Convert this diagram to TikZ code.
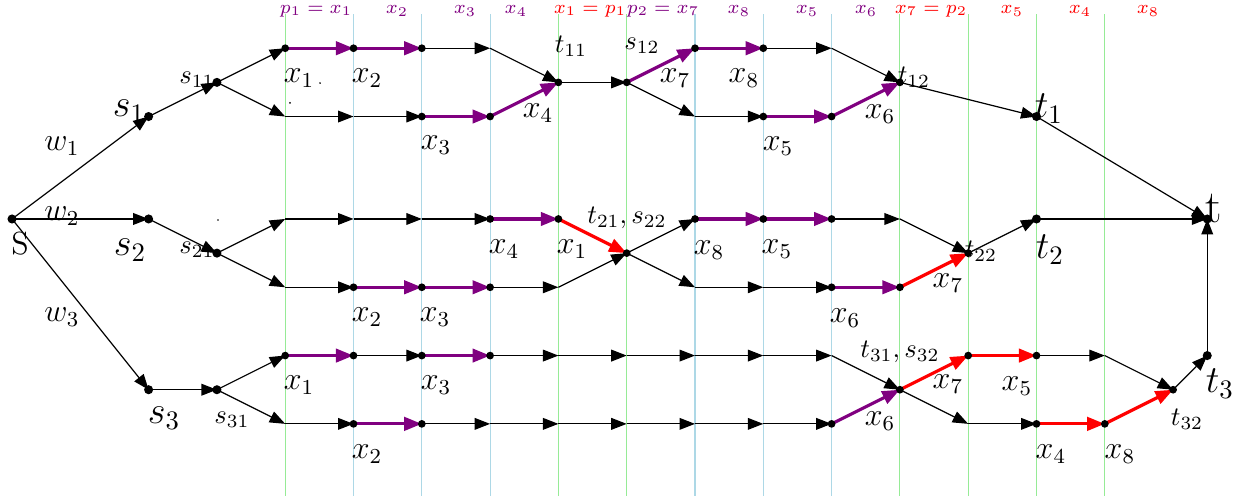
\documentclass[tikz,border=0pt]{standalone}
\usetikzlibrary{arrows.meta}

\definecolor{flowpurple}{RGB}{128,0,128}
\definecolor{sepgreen}{RGB}{150,235,150}
\definecolor{sepblue}{RGB}{173,216,230}

\newcommand*{\xmin}{-0.176}
\newcommand*{\xmax}{17.892}
\newcommand*{\ymin}{-4.056}
\newcommand*{\ymax}{3.206}

\begin{document}
\begin{tikzpicture}
[
	x=0.9cm, y=0.9cm,
	plain/.style={-{Triangle[length=5.8pt,width=4.4pt]},line width=0.45pt},
	used/.style={-{Triangle[length=6.6pt,width=5pt]},very thick,flowpurple},
	moved/.style={used,red},
	closedpt/.style={circle,fill,inner sep=0pt,minimum size=2.9pt},
	bigpt/.style={closedpt,minimum size=3.4pt},
	straypt/.style={circle,fill,inner sep=0pt,minimum size=0.7pt},
	greenline/.style={sepgreen,line width=0.4pt},
	blueline/.style={sepblue,line width=0.4pt},
	xl/.style={font=\large},
	tl/.style={font=\scriptsize}
]
	\useasboundingbox (\xmin,\ymin) rectangle (\xmax,\ymax);

	% separators
	\foreach \k in {0,4,5,9,10,11,12}
		\draw[greenline] (4+\k,3) -- (4+\k,\ymin);
	\foreach \k in {1,2,3,6,7,8}
		\draw[blueline] (4+\k,3) -- (4+\k,\ymin);

	% headers
	\node[tl,flowpurple] (top1) at (4.451,3.045) {$p_1 = x_1$};
	\node[tl,flowpurple] (top2) at (5.637,3.045) {$x_2$};
	\node[tl,flowpurple] (top3) at (6.633,3.045) {$x_3$};
	\node[tl,flowpurple] (top4) at (7.379,3.045) {$x_4$};
	\node[tl,red] (top5) at (8.463,3.045) {$x_1 = p_1$};
	\node[tl,flowpurple] (top6) at (9.531,3.045) {$p_2 = x_7$};
	\node[tl,flowpurple] (top7) at (10.644,3.045) {$x_8$};
	\node[tl,flowpurple] (top8) at (11.64,3.045) {$x_5$};
	\node[tl,flowpurple] (top9) at (12.504,3.045) {$x_6$};
	\node[tl,red] (top10) at (13.455,3.045) {$x_7 = p_2$};
	\node[tl,red] (top11) at (14.641,3.045) {$x_5$};
	\node[tl,red] (top12) at (15.637,3.045) {$x_4$};
	\node[tl,red] (top13) at (16.633,3.045) {$x_8$};

	% points
	\coordinate (S) at (0,0);
	\coordinate (s1) at (2,1.5);
	\coordinate (s2) at (2,0);
	\coordinate (s3) at (2,-2.5);
	\coordinate (s11) at (3,2);
	\coordinate (s21) at (3,-0.5);
	\coordinate (s31) at (3,-2.5);
	\coordinate (t11) at (8,2);
	\coordinate (s12) at (9,2);
	\coordinate (t12) at (13,2);
	\coordinate (t1) at (15,1.5);
	\coordinate (t21) at (9,-0.5);
	\coordinate (t22) at (14,-0.5);
	\coordinate (t2) at (15,0);
	\coordinate (t31) at (13,-2.5);
	\coordinate (t32) at (17,-2.5);
	\coordinate (t3) at (17.5,-2);
	\coordinate (t) at (17.5,0);
	\foreach \i in {0,...,3,6,7,8} {
		\coordinate (a\i) at (4+\i,2.5);
		\coordinate (b\i) at (4+\i,1.5);
	}
	\foreach \i in {0,...,4,6,7,8,9} {
		\coordinate (c\i) at (4+\i,0);
		\coordinate (d\i) at (4+\i,-1);
	}
	\foreach \i in {0,...,8} {
		\coordinate (e\i) at (4+\i,-2);
		\coordinate (f\i) at (4+\i,-3);
	}
	\foreach \i in {1,2,3} {
		\coordinate (g\i) at (13+\i,-2);
		\coordinate (h\i) at (13+\i,-3);
	}

	% arcs
	\foreach \u/\v in {S/s1,S/s2,S/s3,s1/s11,s2/s21,s3/s31,s11/a0,s11/b0,s21/c0,s21/d0,s31/e0,s31/f0}
		\draw[plain] (\u) -- (\v);
	\foreach \u/\v in {a2/a3,a3/t11,b0/b1,b1/b2,t11/s12,s12/b6,a7/a8,a8/t12,b6/b7,t12/t1,t1/t}
		\draw[plain] (\u) -- (\v);
	\foreach \u/\v in {c0/c1,c1/c2,c2/c3,d0/d1,d3/d4,d4/t21,t21/c6,t21/d6,c8/c9,c9/t22,d6/d7,d7/d8,t22/t2,t2/t}
		\draw[plain] (\u) -- (\v);
	\foreach \u/\v in {e1/e2,e3/e4,e4/e5,e5/e6,e6/e7,e7/e8,e8/t31,f0/f1,f2/f3,f3/f4,f4/f5,f5/f6,f6/f7,f7/f8,g2/g3,g3/t32,t31/h1,h1/h2,t32/t3,t3/t}
		\draw[plain] (\u) -- (\v);

	% paths
	\foreach \u/\v in {a0/a1,a1/a2,b2/b3,b3/t11,s12/a6,a6/a7,b7/b8,b8/t12,c3/c4,d1/d2,d2/d3,c6/c7,c7/c8,d8/d9,e0/e1,e2/e3,f1/f2,f8/t31}
		\draw[used] (\u) -- (\v);
	\foreach \u/\v in {c4/t21,d9/t22,t31/g1,g1/g2,h2/h3,h3/t32}
		\draw[moved] (\u) -- (\v);

	% dots
	\foreach \p in {S,s1,s2,s3,s11,s21,s31,t1,t2,t3,t}
		\node[bigpt] (\p-dot) at (\p) {};
	\foreach \p in {a0,a1,a2,t11,s12,a6,a7,t12,b2,b3,b7,b8,c3,c4,t21,c6,c7,c8,t22,d1,d2,d3,d8,d9,e0,e1,e2,e3,t31,g1,g2,t32,f1,f2,f8,h2,h3}
		\node[closedpt] (\p-dot) at (\p) {};
	\node[straypt] (stray1) at (4.51,1.99) {};
	\node[straypt] (stray2) at (4.07,1.70) {};
	\node[straypt] (stray3) at (3.016,-0.015) {};

	% names
	\node[font=\large] (lS) at (0.117,-0.366) {S};
	\node[font=\LARGE] (lt) at (17.6,0.146) {t};
	\node[xl] (lw1) at (0.732,1.069) {$w_1$};
	\node[xl] (lw2) at (0.732,0.044) {$w_2$};
	\node[xl] (lw3) at (0.732,-1.435) {$w_3$};
	\node[font=\Large] (ls1) at (1.713,1.581) {$s_1$};
	\node[font=\Large] (ls2) at (1.728,-0.454) {$s_2$};
	\node[font=\Large] (ls3) at (2.225,-2.914) {$s_3$};
	\node (ls11) at (2.709,2.035) {$s_{11}$};
	\node (ls21) at (2.709,-0.454) {$s_{21}$};
	\node (ls31) at (3.221,-2.943) {$s_{31}$};
	\node (lt11) at (8.184,2.533) {$t_{11}$};
	\node (ls12) at (9.224,2.533) {$s_{12}$};
	\node (lt12) at (13.206,2.079) {$t_{12}$};
	\node[font=\Large] (lt1) at (15.183,1.611) {$t_1$};
	\node[font=\Large] (lt2) at (15.198,-0.454) {$t_2$};
	\node[font=\Large] (lt3) at (17.687,-2.416) {$t_3$};
	\node (lt21) at (9.004,0.015) {$t_{21}, s_{22}$};
	\node (lt22) at (14.187,-0.469) {$t_{22}$};
	\node (lt31) at (13.001,-1.947) {$t_{31}, s_{32}$};
	\node (lt32) at (17.204,-2.928) {$t_{32}$};

	% flow labels, first block
	\node[xl] (la0) at (4.202,2.064) {$x_1$};
	\node[xl] (la1) at (5.198,2.064) {$x_2$};
	\node[xl] (lb2) at (6.208,1.083) {$x_3$};
	\node[xl] (lb3) at (7.701,1.552) {$x_4$};
	\node[xl] (la6) at (9.707,2.064) {$x_7$};
	\node[xl] (la7) at (10.717,2.064) {$x_8$};
	\node[xl] (lb7) at (11.215,1.069) {$x_5$};
	\node[xl] (lb8) at (12.709,1.537) {$x_6$};

	% flow labels, second block
	\node[xl] (lc3) at (7.204,-0.439) {$x_4$};
	\node[xl] (lc4) at (8.199,-0.439) {$x_1$};
	\node[xl] (lc6) at (10.205,-0.454) {$x_8$};
	\node[xl] (lc7) at (11.2,-0.439) {$x_5$};
	\node[xl] (ld1) at (5.198,-1.435) {$x_2$};
	\node[xl] (ld2) at (6.193,-1.435) {$x_3$};
	\node[xl] (ld8) at (12.196,-1.449) {$x_6$};
	\node[xl] (ld9) at (13.704,-0.937) {$x_7$};

	% flow labels, third block
	\node[xl] (le0) at (4.202,-2.43) {$x_1$};
	\node[xl] (le2) at (6.208,-2.43) {$x_3$};
	\node[xl] (lf1) at (5.198,-3.441) {$x_2$};
	\node[xl] (lf8) at (12.709,-2.958) {$x_6$};
	\node[xl] (lg1) at (13.704,-2.416) {$x_7$};
	\node[xl] (lg2) at (14.714,-2.445) {$x_5$};
	\node[xl] (lh2) at (15.212,-3.441) {$x_4$};
	\node[xl] (lh3) at (16.222,-3.441) {$x_8$};

\end{tikzpicture}
\end{document}
